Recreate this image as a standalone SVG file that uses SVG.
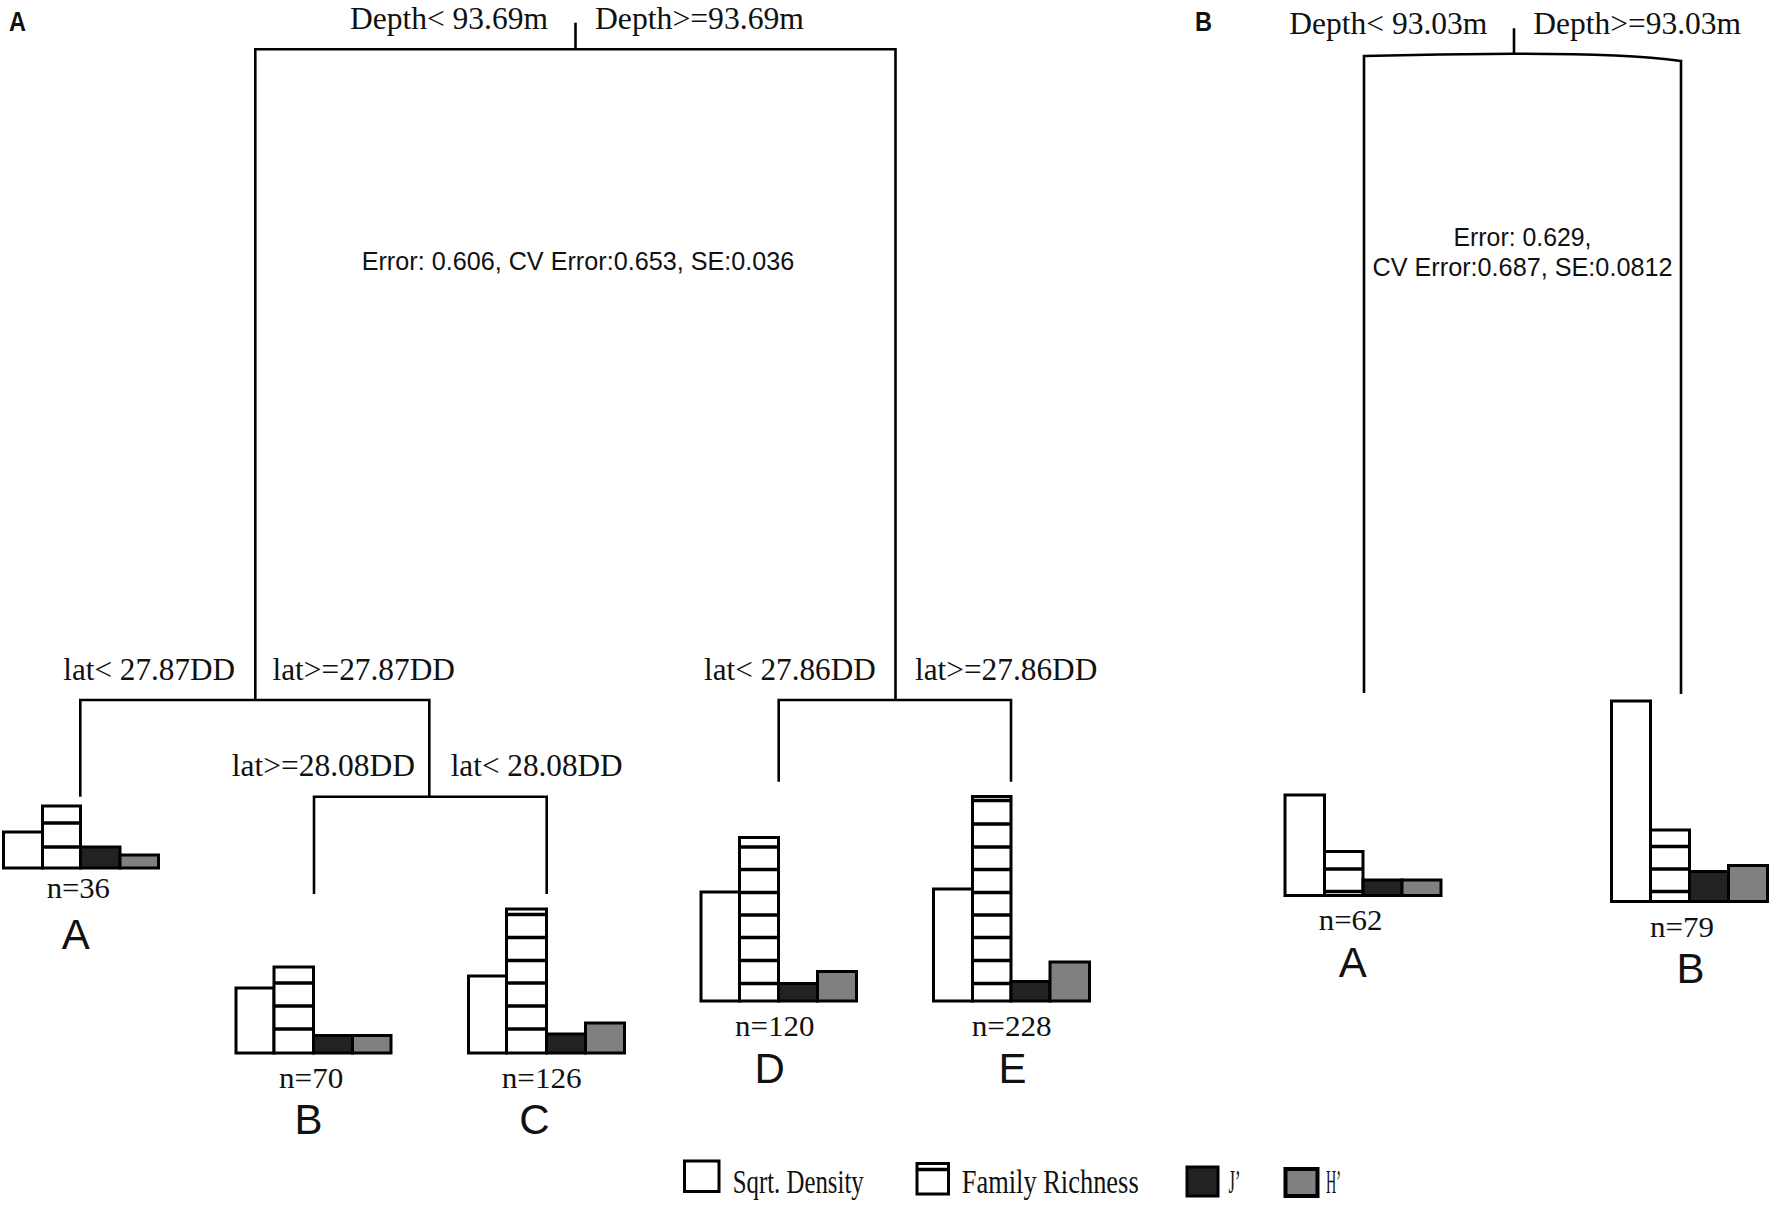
<svg xmlns="http://www.w3.org/2000/svg" width="1772" height="1205" viewBox="0 0 1772 1205">
<style>
.tree{fill:none;stroke:#000;stroke-width:2.6;stroke-linejoin:miter}
.bd,.bf{fill:#fff;stroke:#000;stroke-width:3}
.bj{fill:#222;stroke:#000;stroke-width:3}
.bh{fill:#808080;stroke:#000;stroke-width:3}
.st{stroke:#000;stroke-width:3.5}
.lbl{font-family:"Liberation Serif",serif;font-size:30.5px;fill:#111}
.n{font-family:"Liberation Serif",serif;font-size:28.5px;text-anchor:middle;fill:#111}
.leaf{font-family:"Liberation Sans",sans-serif;font-size:42px;text-anchor:middle;fill:#111}
.err{font-family:"Liberation Sans",sans-serif;font-size:26.5px;fill:#111}
.panel{font-family:"Liberation Sans",sans-serif;font-weight:bold;font-size:27px;fill:#111}
.leg{font-family:"Liberation Serif",serif;font-size:33px;fill:#111}
</style>
<rect width="1772" height="1205" fill="#fff"/>

<text class="panel" x="9" y="31" textLength="17" lengthAdjust="spacingAndGlyphs">A</text>
<text class="panel" x="1195" y="31" textLength="17" lengthAdjust="spacingAndGlyphs">B</text>

<g id="connectors">
  <path class="tree" d="M575.5,22.7 V49.3"/>
  <path class="tree" d="M255.3,700 V49.3 H895.5 V700"/>
  <path class="tree" d="M80.3,796.7 V700 H429.3 V796.7"/>
  <path class="tree" d="M314,894 V796.7 H546.7 V894"/>
  <path class="tree" d="M778.7,781.7 V700 H1011 V781.7"/>
  <path class="tree" d="M1514,28.3 V53.8"/>
  <path class="tree" d="M1364,693 V56 Q1440,54.3 1514,53.8 Q1625,53.5 1681,61 V694"/>
</g>

<g id="A-root">
  <text class="lbl" x="350" y="28.5" textLength="198" lengthAdjust="spacingAndGlyphs">Depth&lt; 93.69m</text>
  <text class="lbl" x="595" y="28.5" textLength="209" lengthAdjust="spacingAndGlyphs">Depth&gt;=93.69m</text>
  <text class="err" x="361.7" y="270" textLength="432.6" lengthAdjust="spacingAndGlyphs">Error: 0.606, CV Error:0.653, SE:0.036</text>
</g>
<g id="A-split-lat2787">
  <text class="lbl" x="63.3" y="680" textLength="171.7" lengthAdjust="spacingAndGlyphs">lat&lt; 27.87DD</text>
  <text class="lbl" x="272.5" y="680" textLength="182.5" lengthAdjust="spacingAndGlyphs">lat&gt;=27.87DD</text>
</g>
<g id="A-split-lat2808">
  <text class="lbl" x="231.7" y="776" textLength="183.3" lengthAdjust="spacingAndGlyphs">lat&gt;=28.08DD</text>
  <text class="lbl" x="450.7" y="776" textLength="172" lengthAdjust="spacingAndGlyphs">lat&lt; 28.08DD</text>
</g>
<g id="A-split-lat2786">
  <text class="lbl" x="704" y="679.5" textLength="171.7" lengthAdjust="spacingAndGlyphs">lat&lt; 27.86DD</text>
  <text class="lbl" x="915" y="679.5" textLength="182.3" lengthAdjust="spacingAndGlyphs">lat&gt;=27.86DD</text>
</g>

<g id="A-leaf-A">
  <rect class="bd" x="3.5" y="832" width="39" height="36"/>
  <rect class="bf" x="42.5" y="806" width="38" height="62"/>
  <rect class="bj" x="80.5" y="847" width="39.5" height="21"/>
  <rect class="bh" x="120" y="855" width="38.5" height="13"/>
  <path class="st" d="M42.5,823 H80.5 M42.5,847 H80.5"/>
  <text class="n" x="78.3" y="898" textLength="63.3" lengthAdjust="spacingAndGlyphs">n=36</text>
  <text class="leaf" x="75.7" y="949">A</text>
</g>
<g id="A-leaf-B">
  <rect class="bd" x="236" y="988" width="38" height="65"/>
  <rect class="bf" x="274" y="967" width="39.5" height="86"/>
  <rect class="bj" x="313.5" y="1035.5" width="39" height="17.5"/>
  <rect class="bh" x="352.5" y="1035.5" width="38.5" height="17.5"/>
  <path class="st" d="M274,983 H313.5 M274,1006 H313.5 M274,1029 H313.5"/>
  <text class="n" x="311.2" y="1088" textLength="64.3" lengthAdjust="spacingAndGlyphs">n=70</text>
  <text class="leaf" x="308.5" y="1134">B</text>
</g>
<g id="A-leaf-C">
  <rect class="bd" x="468.5" y="976" width="38" height="77"/>
  <rect class="bf" x="506.5" y="909" width="40" height="144"/>
  <rect class="bj" x="546.5" y="1034" width="39" height="19"/>
  <rect class="bh" x="585.5" y="1023" width="39" height="30"/>
  <path class="st" d="M506.5,914.5 H546.5 M506.5,937.5 H546.5 M506.5,960.5 H546.5 M506.5,983 H546.5 M506.5,1006 H546.5 M506.5,1029 H546.5"/>
  <text class="n" x="541.7" y="1088" textLength="80" lengthAdjust="spacingAndGlyphs">n=126</text>
  <text class="leaf" x="534.5" y="1134">C</text>
</g>
<g id="A-leaf-D">
  <rect class="bd" x="701" y="892" width="38.5" height="109"/>
  <rect class="bf" x="739.5" y="837.5" width="39" height="163.5"/>
  <rect class="bj" x="778.5" y="983.5" width="39" height="17.5"/>
  <rect class="bh" x="817.5" y="971.5" width="39" height="29.5"/>
  <path class="st" d="M739.5,847 H778.5 M739.5,869.5 H778.5 M739.5,892.5 H778.5 M739.5,915 H778.5 M739.5,937.5 H778.5 M739.5,960.5 H778.5 M739.5,983.5 H778.5"/>
  <text class="n" x="774.7" y="1036" textLength="79.3" lengthAdjust="spacingAndGlyphs">n=120</text>
  <text class="leaf" x="769.6" y="1083">D</text>
</g>
<g id="A-leaf-E">
  <rect class="bd" x="933.5" y="889" width="39" height="112"/>
  <rect class="bf" x="972.5" y="796.5" width="38.5" height="204.5"/>
  <rect class="bj" x="1011" y="981.5" width="39" height="19.5"/>
  <rect class="bh" x="1050" y="962" width="39.5" height="39"/>
  <path class="st" d="M972.5,800.5 H1011 M972.5,824 H1011 M972.5,847 H1011 M972.5,869.5 H1011 M972.5,892.5 H1011 M972.5,915 H1011 M972.5,937.5 H1011 M972.5,960.5 H1011 M972.5,983.5 H1011"/>
  <text class="n" x="1011.7" y="1036" textLength="80" lengthAdjust="spacingAndGlyphs">n=228</text>
  <text class="leaf" x="1012.5" y="1083">E</text>
</g>

<g id="B-root">
  <text class="lbl" x="1289.3" y="33.5" textLength="198" lengthAdjust="spacingAndGlyphs">Depth&lt; 93.03m</text>
  <text class="lbl" x="1533.3" y="33.5" textLength="207.7" lengthAdjust="spacingAndGlyphs">Depth&gt;=93.03m</text>
  <text class="err" x="1522.5" y="246" text-anchor="middle" textLength="138" lengthAdjust="spacingAndGlyphs">Error: 0.629,</text>
  <text class="err" x="1522.5" y="275.5" text-anchor="middle" textLength="300" lengthAdjust="spacingAndGlyphs">CV Error:0.687, SE:0.0812</text>
</g>
<g id="B-leaf-A">
  <rect class="bd" x="1285" y="795" width="39.5" height="100.5"/>
  <rect class="bf" x="1324.5" y="851.5" width="38.5" height="44"/>
  <rect class="bj" x="1363" y="880" width="39" height="15.5"/>
  <rect class="bh" x="1402" y="880" width="39" height="15.5"/>
  <path class="st" d="M1324.5,869 H1363 M1324.5,891.5 H1363"/>
  <text class="n" x="1350.6" y="930" textLength="63.8" lengthAdjust="spacingAndGlyphs">n=62</text>
  <text class="leaf" x="1352.7" y="977">A</text>
</g>
<g id="B-leaf-B">
  <rect class="bd" x="1611.5" y="701" width="39" height="200.5"/>
  <rect class="bf" x="1650.5" y="830" width="39" height="71.5"/>
  <rect class="bj" x="1689.5" y="871.5" width="39" height="30"/>
  <rect class="bh" x="1728.5" y="865.5" width="39" height="36"/>
  <path class="st" d="M1650.5,846.5 H1689.5 M1650.5,869 H1689.5 M1650.5,891.5 H1689.5"/>
  <text class="n" x="1682" y="937" textLength="64" lengthAdjust="spacingAndGlyphs">n=79</text>
  <text class="leaf" x="1690.6" y="983">B</text>
</g>

<g id="legend">
  <rect class="bd" x="684.5" y="1161" width="34.5" height="30.5"/>
  <text class="leg" x="732.7" y="1193" textLength="131" lengthAdjust="spacingAndGlyphs">Sqrt. Density</text>
  <rect class="bf" x="917" y="1163.5" width="31.5" height="30.5"/>
  <path class="st" d="M917,1169.5 H948.5"/>
  <text class="leg" x="961.7" y="1193" textLength="177" lengthAdjust="spacingAndGlyphs">Family Richness</text>
  <rect class="bj" x="1187" y="1167" width="31" height="29"/>
  <text class="leg" x="1228.5" y="1193" textLength="12" lengthAdjust="spacingAndGlyphs">J’</text>
  <rect x="1285.5" y="1169" width="32" height="27" fill="#808080" stroke="#000" stroke-width="4"/>
  <text class="leg" x="1326" y="1193" textLength="15" lengthAdjust="spacingAndGlyphs">H’</text>
</g>
</svg>
